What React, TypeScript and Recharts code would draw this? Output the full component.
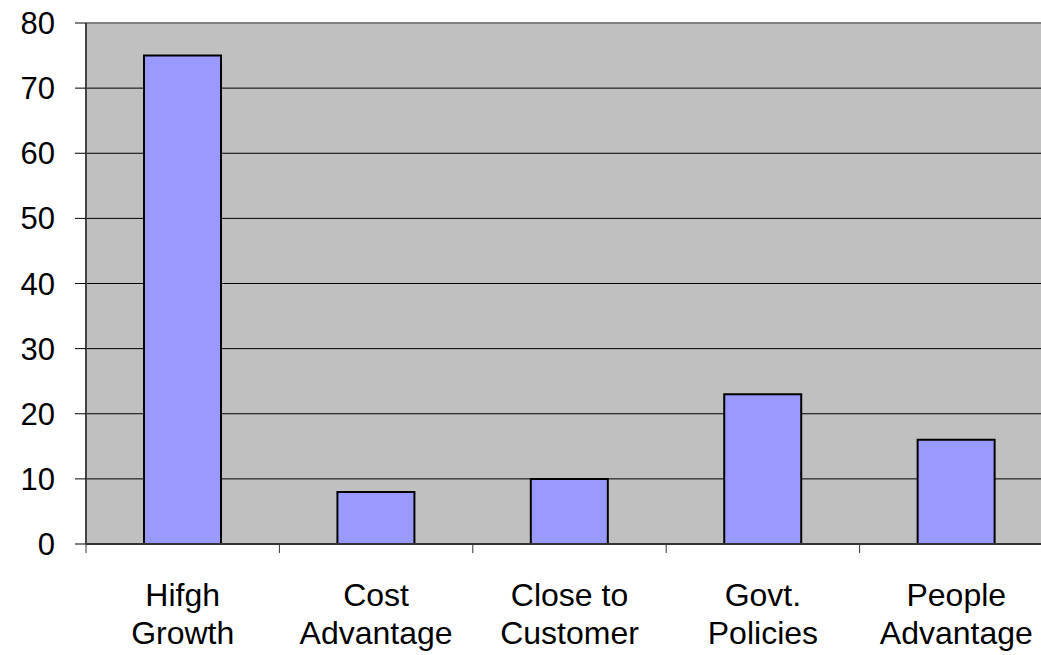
import React from 'react'
import { BarChart, Bar, XAxis, YAxis, CartesianGrid, ReferenceLine } from 'recharts'

const categories = ['Hifgh\nGrowth', 'Cost\nAdvantage', 'Close to\nCustomer', 'Govt.\nPolicies', 'People\nAdvantage']
const values = [75, 8, 10, 23, 16]
const yTicks = [0, 10, 20, 30, 40, 50, 60, 70, 80]

const data = categories.map((name, i) => ({ name, value: values[i] }))

const W = 1060
const H = 655
const LEFT = 86
const TOP = 23
const BOTTOM = 544
const RIGHT = 1053
const BAND = (RIGHT - LEFT) / categories.length
const FONT = '"Liberation Sans", Arial, sans-serif'

// category label in two lines, plus the tick mark on the left edge of its band
function CategoryTick(props: any) {
  const { x, payload } = props
  const lines = String(payload.value).split('\n')
  return (
    <g>
      <line x1={x - BAND / 2} y1={BOTTOM} x2={x - BAND / 2} y2={BOTTOM + 9} stroke="#333" strokeWidth={1} />
      <text x={x} y={BOTTOM + 62} textAnchor="middle" fontFamily={FONT} fontSize={32} fill="#000">
        {lines.map((l, i) => (
          <tspan key={i} x={x} dy={i === 0 ? 0 : 38}>{l}</tspan>
        ))}
      </text>
    </g>
  )
}

export default function App() {
  return (
    <div style={{ position: 'absolute', left: 0, top: 0, width: 1041, height: 655, overflow: 'hidden', background: '#fff' }}>
      <BarChart
        width={W}
        height={H}
        data={data}
        margin={{ top: TOP, right: W - RIGHT, bottom: 0, left: 0 }}
        barCategoryGap="30%"
      >
        <CartesianGrid vertical={false} stroke="#000" strokeWidth={1} fill="#C0C0C0" fillOpacity={1} />
        <ReferenceLine y={80} stroke="#808080" strokeWidth={2} />
        <XAxis
          dataKey="name"
          interval={0}
          axisLine={{ stroke: '#333', strokeWidth: 2 }}
          tickLine={false}
          tick={<CategoryTick />}
          height={H - BOTTOM}
        />
        <YAxis
          domain={[0, 80]}
          ticks={yTicks}
          interval={0}
          width={LEFT}
          axisLine={{ stroke: '#444', strokeWidth: 2 }}
          tickLine={{ stroke: '#000' }}
          tickSize={11}
          tickMargin={20}
          tick={{ fontFamily: FONT, fontSize: 31, fill: '#000' }}
        />
        <Bar dataKey="value" fill="#9999FF" stroke="#000" strokeWidth={2} isAnimationActive={false} />
      </BarChart>
    </div>
  )
}
